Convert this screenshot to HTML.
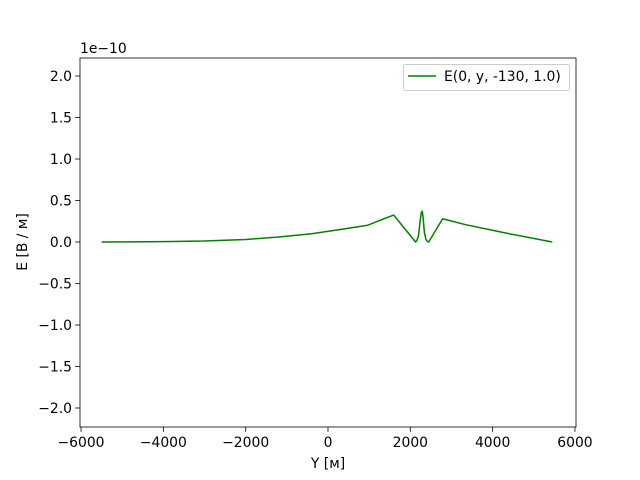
<!DOCTYPE html>
<html><head><meta charset="utf-8"><style>body{margin:0;background:#fff}svg{display:block;font-family:"DejaVu Sans","Liberation Sans",sans-serif}</style></head>
<body>
<svg id="c" width="640" height="480"></svg>
<script>
const xs=[-5500,-4000,-3000,-2000,-1200,-400,300,950,1594,2128,2160,2200,2240,2270,2290,2310,2340,2380,2420,2447,2784,3330,4300,5450];
const ys=[0,0.005,0.012,0.03,0.06,0.1,0.15,0.2,0.325,0.0,0.02,0.08,0.26,0.36,0.37,0.3,0.12,0.03,0.005,0.0,0.28,0.21,0.11,0.0];
const xTicks=[-6000,-4000,-2000,0,2000,4000,6000];
const yTicks=[-2.0,-1.5,-1.0,-0.5,0.0,0.5,1.0,1.5,2.0];
const L=80,R=576,T=58,B=427,x0=-6025,x1=6025,y0=-2.229,y1=2.217;
const sx=v=>L+(v-x0)/(x1-x0)*(R-L), sy=v=>B-(v-y0)/(y1-y0)*(B-T);
const s=document.getElementById('c');const NS='http://www.w3.org/2000/svg';
function mk(t,a,p){const e=document.createElementNS(NS,t);for(const k in a)e.setAttribute(k,a[k]);(p||s).appendChild(e);return e;}
let e=mk('rect',{x:L,y:T,width:R-L,height:B-T,fill:'none',stroke:'#000','stroke-width':0.8});


xTicks.forEach(v=>{const x=sx(v);mk('line',{x1:x,x2:x,y1:B,y2:B+4.9,stroke:'#000','stroke-width':0.8});
e=mk('text',{x:x,y:B+20,'text-anchor':'middle','font-size':13.9});e.textContent=(v<0?'\u2212':'')+Math.abs(v);

});
yTicks.forEach(v=>{const y=sy(v);mk('line',{x1:L,x2:L-4.9,y1:y,y2:y,stroke:'#000','stroke-width':0.8});
e=mk('text',{x:L-8,y:y+5,'text-anchor':'end','font-size':13.9});e.textContent=(v<0?'\u2212':'')+Math.abs(v).toFixed(1);

});
e=mk('text',{x:L,y:T-5,'font-size':13.9});e.textContent='1e\u221210';


e=mk('text',{x:(L+R)/2,y:468,'text-anchor':'middle','font-size':13.9});e.textContent='Y [м]';


e=mk('text',{x:27,y:242,'text-anchor':'middle','font-size':13.9,transform:'rotate(-90 27 242)'});e.textContent='E [В / м]';


e=mk('polyline',{points:xs.map((v,i)=>sx(v)+','+sy(ys[i])).join(' '),fill:'none',stroke:'green','stroke-width':1.5,'stroke-linejoin':'round'});


const g=mk('g',{});

mk('rect',{x:403.5,y:64.5,width:166,height:26,rx:2,fill:'#fff',stroke:'#ccc'},g);
mk('line',{x1:408,x2:436,y1:76,y2:76,stroke:'green','stroke-width':1.5},g);
e=mk('text',{x:444,y:81,'font-size':13.9},g);e.textContent='E(0, y, -130, 1.0)';


</script>
</body></html>
